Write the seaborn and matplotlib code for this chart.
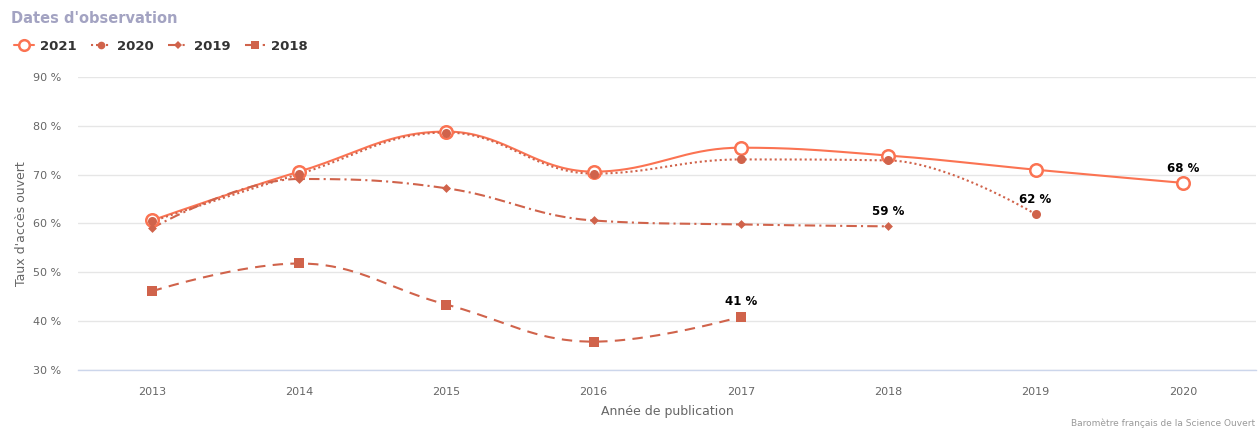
import numpy as np
import pandas as pd
import matplotlib.pyplot as plt
import seaborn as sns
from matplotlib.lines import Line2D

# values (open access rate, %)
years_2021 = [2013, 2014, 2015, 2016, 2017, 2018, 2019, 2020]
rate_2021 = [60.6, 70.6, 78.8, 70.6, 75.5, 73.9, 71.0, 68.3]
years_2020 = [2013, 2014, 2015, 2016, 2017, 2018, 2019]
rate_2020 = [60.4, 70.1, 78.6, 70.2, 73.1, 72.9, 61.9]
years_2019 = [2013, 2014, 2015, 2016, 2017, 2018]
rate_2019 = [59.0, 69.1, 67.2, 60.6, 59.8, 59.4]
years_2018 = [2013, 2014, 2015, 2016, 2017]
rate_2018 = [46.1, 51.8, 43.4, 35.8, 40.9]

series_names = ["2021", "2020", "2019", "2018"]
end_labels = ["68 %", "62 %", "59 %", "41 %"]

C_MAIN = "#fb7352"
C_OLD = "#d0634b"


def spline_path(xs, ys, n=40):
    # Highcharts-style spline (smoothing 1.5) evaluated as cubic Beziers
    xs = np.asarray(xs, float)
    ys = np.asarray(ys, float)
    k = len(xs)
    lx, ly = xs.copy(), ys.copy()
    rx, ry = xs.copy(), ys.copy()
    for i in range(1, k - 1):
        x, y = xs[i], ys[i]
        px, py, nx, ny = xs[i - 1], ys[i - 1], xs[i + 1], ys[i + 1]
        lcx, lcy = (1.5 * x + px) / 2.5, (1.5 * y + py) / 2.5
        rcx, rcy = (1.5 * x + nx) / 2.5, (1.5 * y + ny) / 2.5
        corr = (rcy - lcy) * (rcx - x) / (rcx - lcx) + y - rcy
        lcy += corr
        rcy += corr
        if lcy > py and lcy > y:
            lcy = max(py, y)
            rcy = 2 * y - lcy
        elif lcy < py and lcy < y:
            lcy = min(py, y)
            rcy = 2 * y - lcy
        if rcy > ny and rcy > y:
            rcy = max(ny, y)
            lcy = 2 * y - rcy
        elif rcy < ny and rcy < y:
            rcy = min(ny, y)
            lcy = 2 * y - rcy
        lx[i], ly[i], rx[i], ry[i] = lcx, lcy, rcx, rcy
    t = np.linspace(0, 1, n)[:, None]
    out = []
    for i in range(1, k):
        p0 = np.array([xs[i - 1], ys[i - 1]])
        p1 = np.array([rx[i - 1], ry[i - 1]])
        p2 = np.array([lx[i], ly[i]])
        p3 = np.array([xs[i], ys[i]])
        seg = ((1 - t) ** 3) * p0 + 3 * ((1 - t) ** 2) * t * p1 + 3 * (1 - t) * t ** 2 * p2 + t ** 3 * p3
        out.append(seg if i == 1 else seg[1:])
    pts = np.vstack(out)
    return pts[:, 0], pts[:, 1]


sns.set_theme(style="white")
plt.rcParams["font.family"] = ["DejaVu Sans"]

fig = plt.figure(figsize=(12.59, 4.33), dpi=100)
ax = fig.add_axes([0.062, 0.1455, 0.936, 0.677])

styles = [
    dict(ls="-", marker="o", ms=9, mfc="white", mec=C_MAIN, color=C_MAIN, mew=1.8),
    dict(ls=(0, (1, 1.4)), marker="o", ms=6.5, mfc=C_OLD, mec=C_OLD, color=C_OLD, mew=0),
    dict(ls=(0, (5, 2, 1, 2)), marker="D", ms=4.5, mfc=C_OLD, mec=C_OLD, color=C_OLD, mew=0),
    dict(ls=(0, (5, 3.5)), marker="s", ms=6.5, mfc=C_OLD, mec=C_OLD, color=C_OLD, mew=0),
]
all_x = [years_2021, years_2020, years_2019, years_2018]
all_y = [rate_2021, rate_2020, rate_2019, rate_2018]

handles = []
for name, xs, ys, st, lab in zip(series_names, all_x, all_y, styles, end_labels):
    sx, sy = spline_path(xs, ys)
    ax.plot(sx, sy, color=st["color"], lw=1.5, ls=st["ls"], zorder=2)
    df = pd.DataFrame({"year": xs, "rate": ys})
    sns.scatterplot(data=df, x="year", y="rate", ax=ax, marker=st["marker"],
                    s=st["ms"] ** 2, color=st["mfc"], edgecolor=st["mec"],
                    linewidth=st["mew"], zorder=3)
    ax.annotate(lab, (xs[-1], ys[-1]), xytext=(0, 6), textcoords="offset points",
                ha="center", va="bottom", fontsize=8.5, fontweight="bold",
                color="black", zorder=4)
    handles.append(Line2D([], [], color=st["color"], lw=1.5, ls=st["ls"],
                          marker=st["marker"], markersize=st["ms"] * 0.85,
                          markerfacecolor=st["mfc"], markeredgecolor=st["mec"],
                          markeredgewidth=st["mew"], label=name))

ax.set_xlim(2012.5, 2020.5)
ax.set_ylim(30, 90)
ax.set_xticks(years_2021)
ax.set_xticklabels([str(y) for y in years_2021])
ax.set_yticks(range(30, 91, 10))
ax.set_yticklabels([f"{v} %" for v in range(30, 91, 10)])
ax.tick_params(axis="both", labelsize=8, colors="#666666", length=0, pad=12)
ax.grid(axis="y", color="#e6e6e6", lw=1)
for s in ["top", "right", "left"]:
    ax.spines[s].set_visible(False)
ax.spines["bottom"].set_color("#ccd6eb")
ax.spines["bottom"].set_linewidth(1)
ax.set_xlabel("Année de publication", fontsize=9, color="#666666", labelpad=6)
ax.set_ylabel("Taux d'accès ouvert", fontsize=9, color="#666666", labelpad=4)

fig.text(0.009, 0.958, "Dates d'observation", fontsize=10.5, fontweight="bold",
         color="#a3a3c2", va="center", ha="left")
fig.legend(handles=handles, loc="center left", bbox_to_anchor=(0.002, 0.893),
           ncol=4, frameon=False, handlelength=1.5, handletextpad=0.45,
           columnspacing=1.1, prop=dict(size=9.5, weight="bold"), labelcolor="#333333")
fig.text(0.997, 0.012, "Baromètre français de la Science Ouvert", fontsize=6.5,
         color="#999999", ha="right", va="bottom")

plt.savefig("out.png", dpi=100)
plt.close()
